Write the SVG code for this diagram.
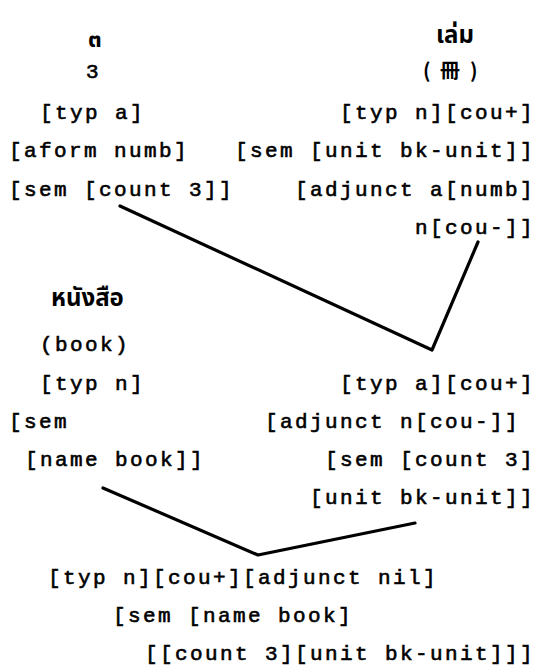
<svg xmlns="http://www.w3.org/2000/svg" width="537" height="665" viewBox="0 0 537 665">
  <style>
    .t { font-family: "Liberation Mono", "DejaVu Sans Mono", monospace; font-size: 21px; letter-spacing: 2.4px; fill: #000; stroke: #000; stroke-width: 0.6px; }
    .th { font-family: "Noto Sans Thai", "Noto Sans", "DejaVu Sans", sans-serif; font-size: 24px; font-weight: bold; fill: #000; }
    .cj { font-family: "Noto Sans CJK JP", "Noto Sans CJK SC", sans-serif; font-size: 20px; font-weight: bold; fill: #000; }
    .edge { stroke: #000; stroke-width: 3.2; fill: none; stroke-linecap: round; stroke-linejoin: round; }
  </style>
  <rect width="537" height="665" fill="#fff"/>

  <!-- numeral node -->
  <g id="node-numeral">
    <text class="th" x="88" y="47">๓</text>
    <text class="t" x="86" y="78">3</text>
    <text class="t" x="40" y="119">[typ a]</text>
    <text class="t" x="9" y="157">[aform numb]</text>
    <text class="t" x="9" y="196">[sem [count 3]]</text>
  </g>

  <!-- classifier node -->
  <g id="node-classifier">
    <text class="th" x="436" y="43">เล่ม</text>
    <text class="cj" x="423 440 470" y="78">(冊)</text>
    <text class="t" x="340" y="119">[typ n][cou+]</text>
    <text class="t" x="235" y="157">[sem [unit bk-unit]]</text>
    <text class="t" x="295" y="196">[adjunct a[numb]</text>
    <text class="t" x="415" y="234">n[cou-]]</text>
  </g>

  <!-- noun node -->
  <g id="node-noun">
    <text class="th" x="51" y="306">หนังสือ</text>
    <text class="t" x="40" y="351">(book)</text>
    <text class="t" x="40" y="390">[typ n]</text>
    <text class="t" x="9" y="428">[sem</text>
    <text class="t" x="25" y="466">[name book]]</text>
  </g>

  <!-- numeral + classifier phrase -->
  <g id="node-quantifier">
    <text class="t" x="340" y="390">[typ a][cou+]</text>
    <text class="t" x="265" y="428">[adjunct n[cou-]]</text>
    <text class="t" x="325" y="466">[sem [count 3]</text>
    <text class="t" x="310" y="504">[unit bk-unit]]</text>
  </g>

  <!-- full noun phrase -->
  <g id="node-phrase">
    <text class="t" x="48" y="584">[typ n][cou+][adjunct nil]</text>
    <text class="t" x="113" y="622">[sem [name book]</text>
    <text class="t" x="145" y="660">[[count 3][unit bk-unit]]]</text>
  </g>

  <!-- tree branches -->
  <g id="connectors">
    <polyline class="edge" points="120,206 432,350 478,242"/>
    <polyline class="edge" points="103,488 258,555 415,523"/>
  </g>
</svg>
